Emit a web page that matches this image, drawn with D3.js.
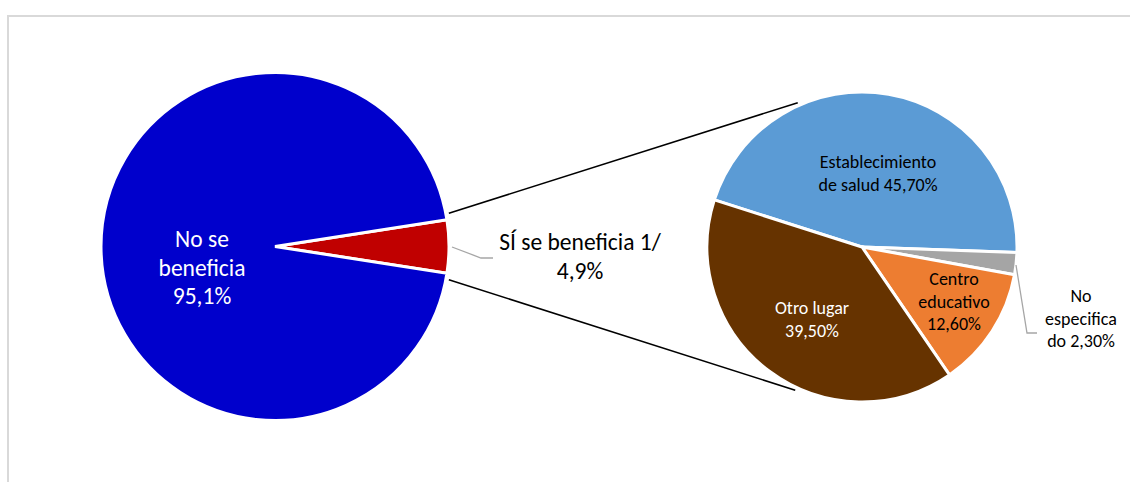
<!DOCTYPE html>
<html>
<head>
<meta charset="utf-8">
<script src="https://cdn.jsdelivr.net/npm/d3@7"></script>
<style>
  html, body { margin: 0; padding: 0; background: #fff; }
  svg { display: block; }
  text { font-family: Carlito, Lato, "Open Sans", sans-serif; }
</style>
</head>
<body>
<svg id="chart" width="1130" height="482"></svg>
<script>
// ---- data ----
const mainCategories = ["SÍ se beneficia 1/", "No se beneficia"];
const mainValues = [4.9, 95.1];
const mainLabels = [["SÍ se beneficia 1/", "4,9%"], ["No se", "beneficia", "95,1%"]];

const subCategories = ["Establecimiento de salud", "No especificado", "Centro educativo", "Otro lugar"];
const subValues = [45.7, 2.3, 12.6, 39.5];
const subLabels = [["Establecimiento", "de salud 45,70%"], ["No", "especifica", "do 2,30%"], ["Centro", "educativo", "12,60%"], ["Otro lugar", "39,50%"]];

// ---- style / layout ----
const mainColors = ["#C00000", "#0000CC"];
const subColors = ["#5B9BD5", "#A5A5A5", "#ED7D31", "#663300"];
const mainTextColors = ["#000000", "#ffffff"];
const subTextColors = ["#000000", "#000000", "#000000", "#ffffff"];

const W = 1130, H = 482;
const svg = d3.select("#chart");
const deg = Math.PI / 180;

// frame
svg.append("path")
  .attr("d", `M8,${H} L8,16 L${W},16`)
  .attr("fill", "none").attr("stroke", "#d9d9d9").attr("stroke-width", 2);

const main = { cx: 275, cy: 246.5, r: 174 };
const sub = { cx: 862, cy: 247, r: 155 };

// main pie: first slice centered on the right (90deg)
const mainTotal = d3.sum(mainValues);
const firstSpan = mainValues[0] / mainTotal * 2 * Math.PI;
const mainStart = Math.PI / 2 - firstSpan / 2;
const mainPie = d3.pie().sort(null).value(d => d)
  .startAngle(mainStart).endAngle(mainStart + 2 * Math.PI);
const mainArcs = mainPie(mainValues);
const mainArc = d3.arc().innerRadius(0).outerRadius(main.r);

const gMain = svg.append("g").attr("transform", `translate(${main.cx},${main.cy})`);
gMain.selectAll("path").data(mainArcs).join("path")
  .attr("d", mainArc)
  .attr("fill", (d, i) => mainColors[i])
  .attr("stroke", "#fff").attr("stroke-width", 3).attr("stroke-linejoin", "miter");

// sub pie
const subStart = -72.3 * deg;
const subPie = d3.pie().sort(null).value(d => d)
  .startAngle(subStart).endAngle(subStart + 2 * Math.PI);
const subArcs = subPie(subValues);
const subArc = d3.arc().innerRadius(0).outerRadius(sub.r);

const gSub = svg.append("g").attr("transform", `translate(${sub.cx},${sub.cy})`);
gSub.selectAll("path").data(subArcs).join("path")
  .attr("d", subArc)
  .attr("fill", (d, i) => subColors[i])
  .attr("stroke", "#fff").attr("stroke-width", 3).attr("stroke-linejoin", "miter");

// connector lines from first slice edges to second pie
function polar(c, r, a) { return [c.cx + r * Math.sin(a), c.cy - r * Math.cos(a)]; }
const s0 = mainArcs[0];
const pA = polar(main, main.r + 3, s0.startAngle - 2 * deg);
const pB = polar(main, main.r + 3, s0.endAngle + 2 * deg);
const qA = polar(sub, sub.r + 3, -24 * deg);
const qB = polar(sub, sub.r + 3, 205 * deg);
svg.append("line").attr("x1", pA[0]).attr("y1", pA[1]).attr("x2", qA[0]).attr("y2", qA[1])
  .attr("stroke", "#000").attr("stroke-width", 1.6);
svg.append("line").attr("x1", pB[0]).attr("y1", pB[1]).attr("x2", qB[0]).attr("y2", qB[1])
  .attr("stroke", "#000").attr("stroke-width", 1.6);

// leader lines
svg.append("polyline").attr("points", "452,247 481,258 493,258")
  .attr("fill", "none").attr("stroke", "#a6a6a6").attr("stroke-width", 1.3);
svg.append("polyline").attr("points", "1016,265 1027,333 1037,333")
  .attr("fill", "none").attr("stroke", "#a6a6a6").attr("stroke-width", 1.3);

// labels
function drawLabel(lines, x, y0, lh, size, color) {
  const t = svg.append("text").attr("text-anchor", "middle")
    .attr("font-size", size).attr("fill", color);
  lines.forEach((s, i) => t.append("tspan").attr("x", x).attr("y", y0 + i * lh).text(s));
}
const mainLabelPos = [[580, 250], [202, 247]];
mainLabels.forEach((l, i) => drawLabel(l, mainLabelPos[i][0], mainLabelPos[i][1], 28.5, 23.5, mainTextColors[i]));

const subLabelPos = [[878, 168], [1081, 302], [954, 285], [812, 314]];
subLabels.forEach((l, i) => drawLabel(l, subLabelPos[i][0], subLabelPos[i][1], 22.5, 18, subTextColors[i]));
</script>
</body>
</html>
